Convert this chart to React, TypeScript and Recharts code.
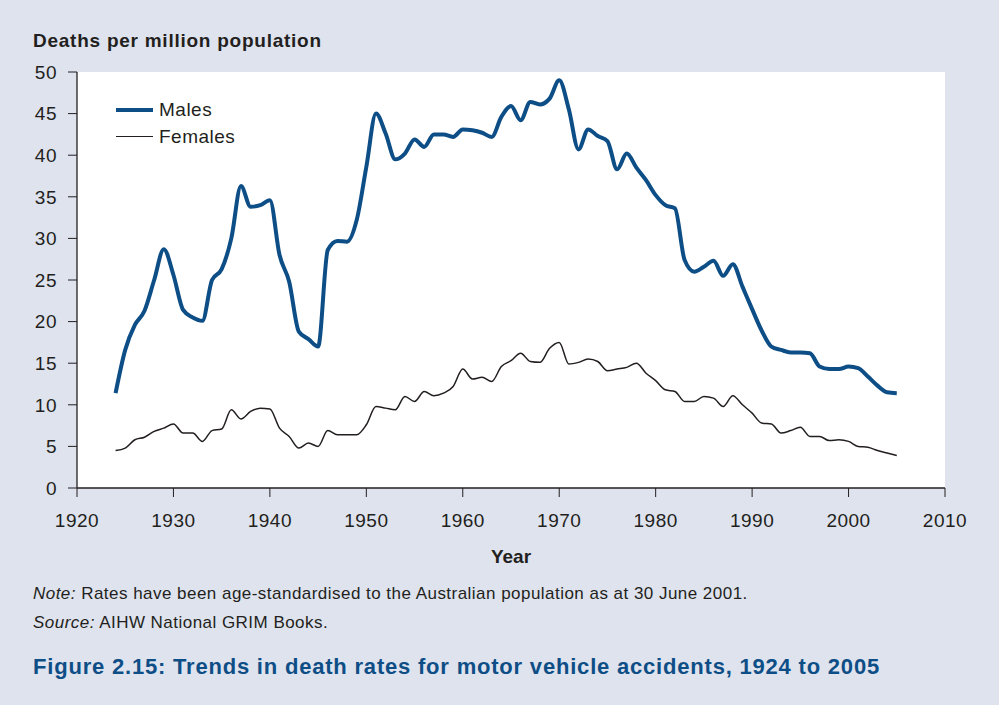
import React from "react";
import { LineChart, Line, XAxis, YAxis, CartesianGrid } from "recharts";

// Age-standardised motor vehicle accident death rates, per million population
const years = [
  1924, 1925, 1926, 1927, 1928, 1929, 1930, 1931, 1932, 1933,
  1934, 1935, 1936, 1937, 1938, 1939, 1940, 1941, 1942, 1943,
  1944, 1945, 1946, 1947, 1948, 1949, 1950, 1951, 1952, 1953,
  1954, 1955, 1956, 1957, 1958, 1959, 1960, 1961, 1962, 1963,
  1964, 1965, 1966, 1967, 1968, 1969, 1970, 1971, 1972, 1973,
  1974, 1975, 1976, 1977, 1978, 1979, 1980, 1981, 1982, 1983,
  1984, 1985, 1986, 1987, 1988, 1989, 1990, 1991, 1992, 1993,
  1994, 1995, 1996, 1997, 1998, 1999, 2000, 2001, 2002, 2003,
  2004, 2005,
];

const males = [
  11.4, 16.6, 19.6, 21.3, 25.0, 28.7, 25.6, 21.4, 20.5, 20.1,
  25.0, 26.3, 30.0, 36.3, 33.8, 34.0, 34.6, 28.0, 24.8, 18.8,
  17.9, 17.0, 28.6, 29.7, 29.6, 32.2, 38.6, 45.0, 42.6, 39.5,
  40.2, 41.9, 41.0, 42.5, 42.5, 42.2, 43.1, 43.0, 42.7, 42.2,
  44.6, 45.9, 44.2, 46.4, 46.1, 46.8, 49.0, 45.5, 40.7, 43.1,
  42.3, 41.7, 38.3, 40.2, 38.5, 37.0, 35.2, 34.0, 33.6, 27.4,
  26.0, 26.6, 27.3, 25.5, 26.9, 24.2, 21.5, 18.9, 17.0, 16.6,
  16.3, 16.3, 16.2, 14.6, 14.3, 14.3, 14.6, 14.4, 13.4, 12.3,
  11.5, 11.4,
];

const females = [
  4.5, 4.8, 5.8, 6.1, 6.8, 7.2, 7.7, 6.6, 6.6, 5.6,
  6.9, 7.1, 9.4, 8.3, 9.2, 9.6, 9.5, 7.2, 6.2, 4.8,
  5.4, 5.0, 6.9, 6.4, 6.4, 6.4, 7.6, 9.8, 9.6, 9.4,
  11.0, 10.4, 11.6, 11.1, 11.4, 12.2, 14.3, 13.1, 13.3, 12.8,
  14.6, 15.3, 16.2, 15.2, 15.1, 16.8, 17.5, 14.9, 15.1, 15.5,
  15.2, 14.1, 14.3, 14.5, 15.0, 13.8, 12.9, 11.8, 11.6, 10.4,
  10.4, 11.0, 10.8, 9.8, 11.1, 10.0, 9.0, 7.8, 7.7, 6.6,
  6.9, 7.3, 6.2, 6.2, 5.7, 5.8, 5.6, 5.0, 4.9, 4.5,
  4.2, 3.9,
];

const xTicks = [1920, 1930, 1940, 1950, 1960, 1970, 1980, 1990, 2000, 2010];
const yTicks = [0, 5, 10, 15, 20, 25, 30, 35, 40, 45, 50];

const data = years.map((year, i) => ({
  year,
  Males: males[i],
  Females: females[i],
}));

const BLUE = "#0e4e86";
const INK = "#231f20";
const BG = "#dfe3ee";

const tickStyle = { fill: INK, fontSize: 19, letterSpacing: 0.5 };

const legendItems = [
  { name: "Males", color: BLUE, thickness: 4 },
  { name: "Females", color: INK, thickness: 1.5 },
];

export default function App() {
  return (
    <div
      style={{
        position: "absolute",
        left: 0,
        top: 0,
        width: 999,
        height: 705,
        background: BG,
        fontFamily: '"Liberation Sans", Arial, sans-serif',
        color: INK,
      }}
    >
      <div
        style={{
          position: "absolute",
          left: 33,
          top: 31,
          fontSize: 19,
          lineHeight: "19px",
          fontWeight: "bold",
          letterSpacing: 0.75,
          whiteSpace: "nowrap",
        }}
      >
        Deaths per million population
      </div>

      <LineChart
        width={999}
        height={575}
        data={data}
        margin={{ top: 72, right: 54, left: 0, bottom: 0 }}
      >
        <CartesianGrid horizontal={false} vertical={false} fill="#ffffff" />
        <XAxis
          dataKey="year"
          type="number"
          domain={[1920, 2010]}
          ticks={xTicks}
          height={87}
          tick={tickStyle}
          tickSize={9}
          tickMargin={17}
          axisLine={{ stroke: INK, strokeWidth: 1.3 }}
          tickLine={{ stroke: INK, strokeWidth: 1 }}
          label={{
            value: "Year",
            position: "insideBottom",
            offset: 12,
            style: { fill: INK, fontSize: 19, fontWeight: "bold" },
          }}
        />
        <YAxis
          type="number"
          domain={[0, 50]}
          ticks={yTicks}
          width={77}
          tick={tickStyle}
          tickSize={9}
          tickMargin={11}
          axisLine={{ stroke: INK, strokeWidth: 1.3 }}
          tickLine={{ stroke: INK, strokeWidth: 1 }}
        />
        <Line
          type="monotone"
          dataKey="Males"
          stroke={BLUE}
          strokeWidth={4}
          dot={false}
          isAnimationActive={false}
        />
        <Line
          type="monotone"
          dataKey="Females"
          stroke={INK}
          strokeWidth={1.5}
          dot={false}
          isAnimationActive={false}
        />
      </LineChart>

      {/* legend, drawn over the plot's top-left corner */}
      <div style={{ position: "absolute", left: 116, top: 96 }}>
        {legendItems.map((item) => (
          <div
            key={item.name}
            style={{ display: "flex", alignItems: "center", height: 27 }}
          >
            <div
              style={{
                width: 37,
                height: item.thickness,
                background: item.color,
                marginRight: 6,
              }}
            />
            <span style={{ fontSize: 19, letterSpacing: 0.5 }}>
              {item.name}
            </span>
          </div>
        ))}
      </div>

      <div
        style={{
          position: "absolute",
          left: 33,
          top: 585,
          fontSize: 17,
          lineHeight: "17px",
          letterSpacing: 0.47,
          whiteSpace: "nowrap",
        }}
      >
        <i>Note:</i> Rates have been age-standardised to the Australian
        population as at 30 June 2001.
      </div>
      <div
        style={{
          position: "absolute",
          left: 33,
          top: 614,
          fontSize: 17,
          lineHeight: "17px",
          letterSpacing: 0.47,
          whiteSpace: "nowrap",
        }}
      >
        <i>Source:</i> AIHW National GRIM Books.
      </div>
      <div
        style={{
          position: "absolute",
          left: 33,
          top: 656,
          fontSize: 22,
          lineHeight: "22px",
          fontWeight: "bold",
          letterSpacing: 0.8,
          color: BLUE,
          whiteSpace: "nowrap",
        }}
      >
        Figure 2.15: Trends in death rates for motor vehicle accidents, 1924 to
        2005
      </div>
    </div>
  );
}
